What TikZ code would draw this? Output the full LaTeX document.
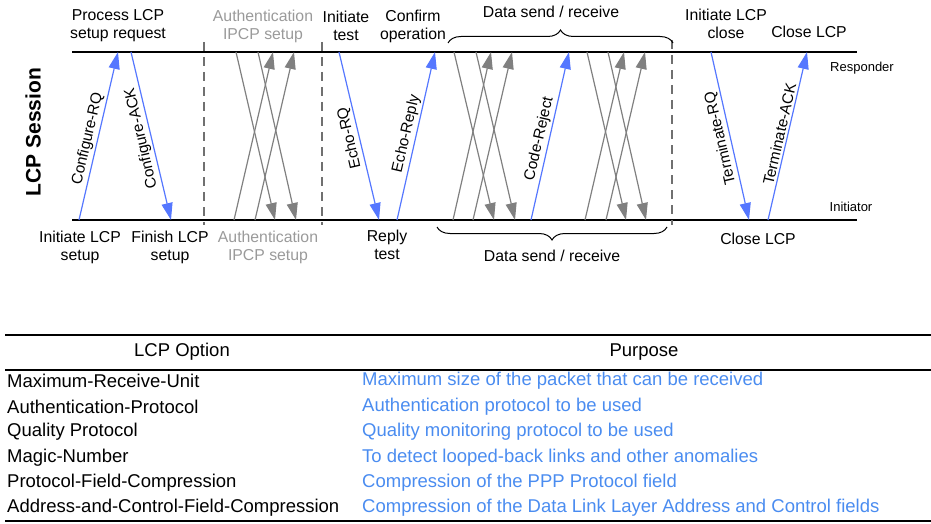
\documentclass[tikz,border=0pt]{standalone}
\usepackage{fontspec}
\setmainfont{Liberation Sans}
\usepackage{tikz}
\usetikzlibrary{arrows.meta, positioning, calc, decorations.pathreplacing}
\definecolor{msgblue}{HTML}{5577FF}
\definecolor{optblue}{HTML}{4A8CF0}
\definecolor{pktgray}{HTML}{808080}
\definecolor{txtgray}{HTML}{9A9A9A}
\definecolor{sepgray}{HTML}{707070}

\begin{document}
\begin{tikzpicture}[x=1pt, y=-1pt,
  lab/.style={font=\fontsize{15.8}{18}\selectfont, align=center, inner sep=0pt},
  side/.style={font=\fontsize{13}{15}\selectfont, inner sep=0pt},
  bus/.style={line width=2.5pt, black},
  sep/.style={line width=1.8pt, sepgray, dash pattern=on 9pt off 6pt},
  msg/.style={line width=1.2pt, msgblue, -{Triangle[length=17pt, width=11pt]}},
  pkt/.style={line width=1.2pt, pktgray, -{Triangle[length=17pt, width=11pt]}},
  msglab/.style={font=\fontsize{15.3}{17}\selectfont, text=black, inner sep=2pt, above},
  brc/.style={line width=1pt, decorate, decoration={brace, amplitude=13pt}},
  rule/.style={line width=2.2pt},
  optname/.style={font=\fontsize{18.5}{21}\selectfont, anchor=west, inner sep=0pt},
  optuse/.style={optname, text=optblue}]
  \useasboundingbox (0,0) rectangle (931,524);

  % session lines
  \coordinate (r0) at (72,52);  \coordinate (r1) at (857,52);
  \coordinate (i0) at (72,220); \coordinate (i1) at (857,220);
  \draw[bus] (r0) -- (r1);
  \draw[bus] (i0) -- (i1);
  \node[side] (resp) at (862,68) {Responder};
  \node[side] (init) at (851,207) {Initiator};
  \node[font=\bfseries\fontsize{21}{24}\selectfont, rotate=90] (session) at (33,132) {LCP Session};

  % phase separators
  \path (204,42) coordinate (s1a) (204,225) coordinate (s1b)
        (322,42) coordinate (s2a) (322,225) coordinate (s2b)
        (672,40) coordinate (s3a) (672,225) coordinate (s3b);
  \draw[sep] (s1a) -- (s1b);
  \draw[sep] (s2a) -- (s2b);
  \draw[sep] (s3a) -- (s3b);

  % top labels
  \node[lab] (procreq) at (118,26) {Process LCP\\setup request};
  \node[lab, text=txtgray] (authtop) at (263,26) {Authentication\\IPCP setup};
  \node[lab] (inittest) at (346,26) {Initiate\\test};
  \node[lab] (confirm) at (413,26) {Confirm\\operation};
  \node[lab] (datatop) at (551,12) {Data send / receive};
  \node[lab] (initclose) at (726,24) {Initiate LCP\\close};
  \node[lab] (closetop) at (809,32) {Close LCP};

  % bottom labels
  \node[lab] (initsetup) at (80,247) {Initiate LCP\\setup};
  \node[lab] (finsetup) at (170,247) {Finish LCP\\setup};
  \node[lab, text=txtgray] (authbot) at (268,247) {Authentication\\IPCP setup};
  \node[lab] (replytest) at (387,245) {Reply\\test};
  \node[lab] (databot) at (552,256) {Data send / receive};
  \node[lab] (closebot) at (758,239) {Close LCP};

  % braces
  \path (448,43) coordinate (bt0) (673,43) coordinate (bt1)
        (667,227) coordinate (bb0) (437,227) coordinate (bb1);
  \draw[brc] (bt0) -- (bt1);
  \draw[brc] (bb0) -- (bb1);

  % LCP messages
  \path (79,220) coordinate (cfq0) (118,52) coordinate (cfq1)
        (131,52) coordinate (cfa0) (171,220) coordinate (cfa1)
        (339,52) coordinate (erq0) (379,220) coordinate (erq1)
        (397,220) coordinate (erp0) (435,52) coordinate (erp1)
        (531,220) coordinate (crj0) (569,52) coordinate (crj1)
        (711,52) coordinate (trq0) (749,220) coordinate (trq1)
        (768,220) coordinate (tak0) (807,52) coordinate (tak1);
  \draw[msg] (cfq0) -- node[msglab, pos=0.47, rotate=77] {Configure-RQ} (cfq1);
  \draw[msg] (cfa0) -- node[msglab, rotate=103] {Configure-ACK} (cfa1);
  \draw[msg] (erq0) -- node[msglab, rotate=103] {Echo-RQ} (erq1);
  \draw[msg] (erp0) -- node[msglab, rotate=77] {Echo-Reply} (erp1);
  \draw[msg] (crj0) -- node[msglab, pos=0.47, rotate=77] {Code-Reject} (crj1);
  \draw[msg] (trq0) -- node[msglab, rotate=103] {Terminate-RQ} (trq1);
  \draw[msg] (tak0) -- node[msglab, rotate=77] {Terminate-ACK} (tak1);

  % authentication / IPCP packets
  \path (236,52) coordinate (pa1) (275,220) coordinate (pa2)
        (258,52) coordinate (pa3) (296,220) coordinate (pa4)
        (234,220) coordinate (pa5) (273,52) coordinate (pa6)
        (255,220) coordinate (pa7) (294,52) coordinate (pa8);
  \draw[pkt] (pa1) -- (pa2);
  \draw[pkt] (pa3) -- (pa4);
  \draw[pkt] (pa5) -- (pa6);
  \draw[pkt] (pa7) -- (pa8);

  % data packets
  \path (454,52) coordinate (pb1) (494,220) coordinate (pb2)
        (476,52) coordinate (pb3) (515,220) coordinate (pb4)
        (453,220) coordinate (pb5) (491,52) coordinate (pb6)
        (473,220) coordinate (pb7) (512,52) coordinate (pb8);
  \draw[pkt] (pb1) -- (pb2);
  \draw[pkt] (pb3) -- (pb4);
  \draw[pkt] (pb5) -- (pb6);
  \draw[pkt] (pb7) -- (pb8);
  \path (587,52) coordinate (pc1) (626,220) coordinate (pc2)
        (608,52) coordinate (pc3) (646,220) coordinate (pc4)
        (585,220) coordinate (pc5) (624,52) coordinate (pc6)
        (606,220) coordinate (pc7) (645,52) coordinate (pc8);
  \draw[pkt] (pc1) -- (pc2);
  \draw[pkt] (pc3) -- (pc4);
  \draw[pkt] (pc5) -- (pc6);
  \draw[pkt] (pc7) -- (pc8);

  % option table
  \path (5,335) coordinate (t0) (931,335) coordinate (t1)
        (5,370) coordinate (h0) (931,370) coordinate (h1)
        (5,521) coordinate (b0) (931,521) coordinate (b1);
  \draw[rule] (t0) -- (t1);
  \draw[rule] (h0) -- (h1);
  \draw[rule] (b0) -- (b1);
  \node[optname, anchor=center] (hopt) at (182,352) {LCP Option};
  \node[optname, anchor=center] (hpur) at (644,352) {Purpose};
  \node[optname] (mru) at (7,381) {Maximum-Receive-Unit};
  \node[optname] (auth) at (7,406.5) {Authentication-Protocol};
  \node[optname] (qual) at (7,432) {Quality Protocol};
  \node[optname] (magic) at (7,457.5) {Magic-Number};
  \node[optname] (pfc) at (7,483) {Protocol-Field-Compression};
  \node[optname] (acfc) at (7,508) {Address-and-Control-Field-Compression};
  \node[optuse] (mrux) at (362,381) {Maximum size of the packet that can be received};
  \node[optuse] (authx) at (362,406.5) {Authentication protocol to be used};
  \node[optuse] (qualx) at (362,432) {Quality monitoring protocol to be used};
  \node[optuse] (magicx) at (362,457.5) {To detect looped-back links and other anomalies};
  \node[optuse] (pfcx) at (362,483) {Compression of the PPP Protocol field};
  \node[optuse] (acfcx) at (362,508) {Compression of the Data Link Layer Address and Control fields};
\end{tikzpicture}
\end{document}
